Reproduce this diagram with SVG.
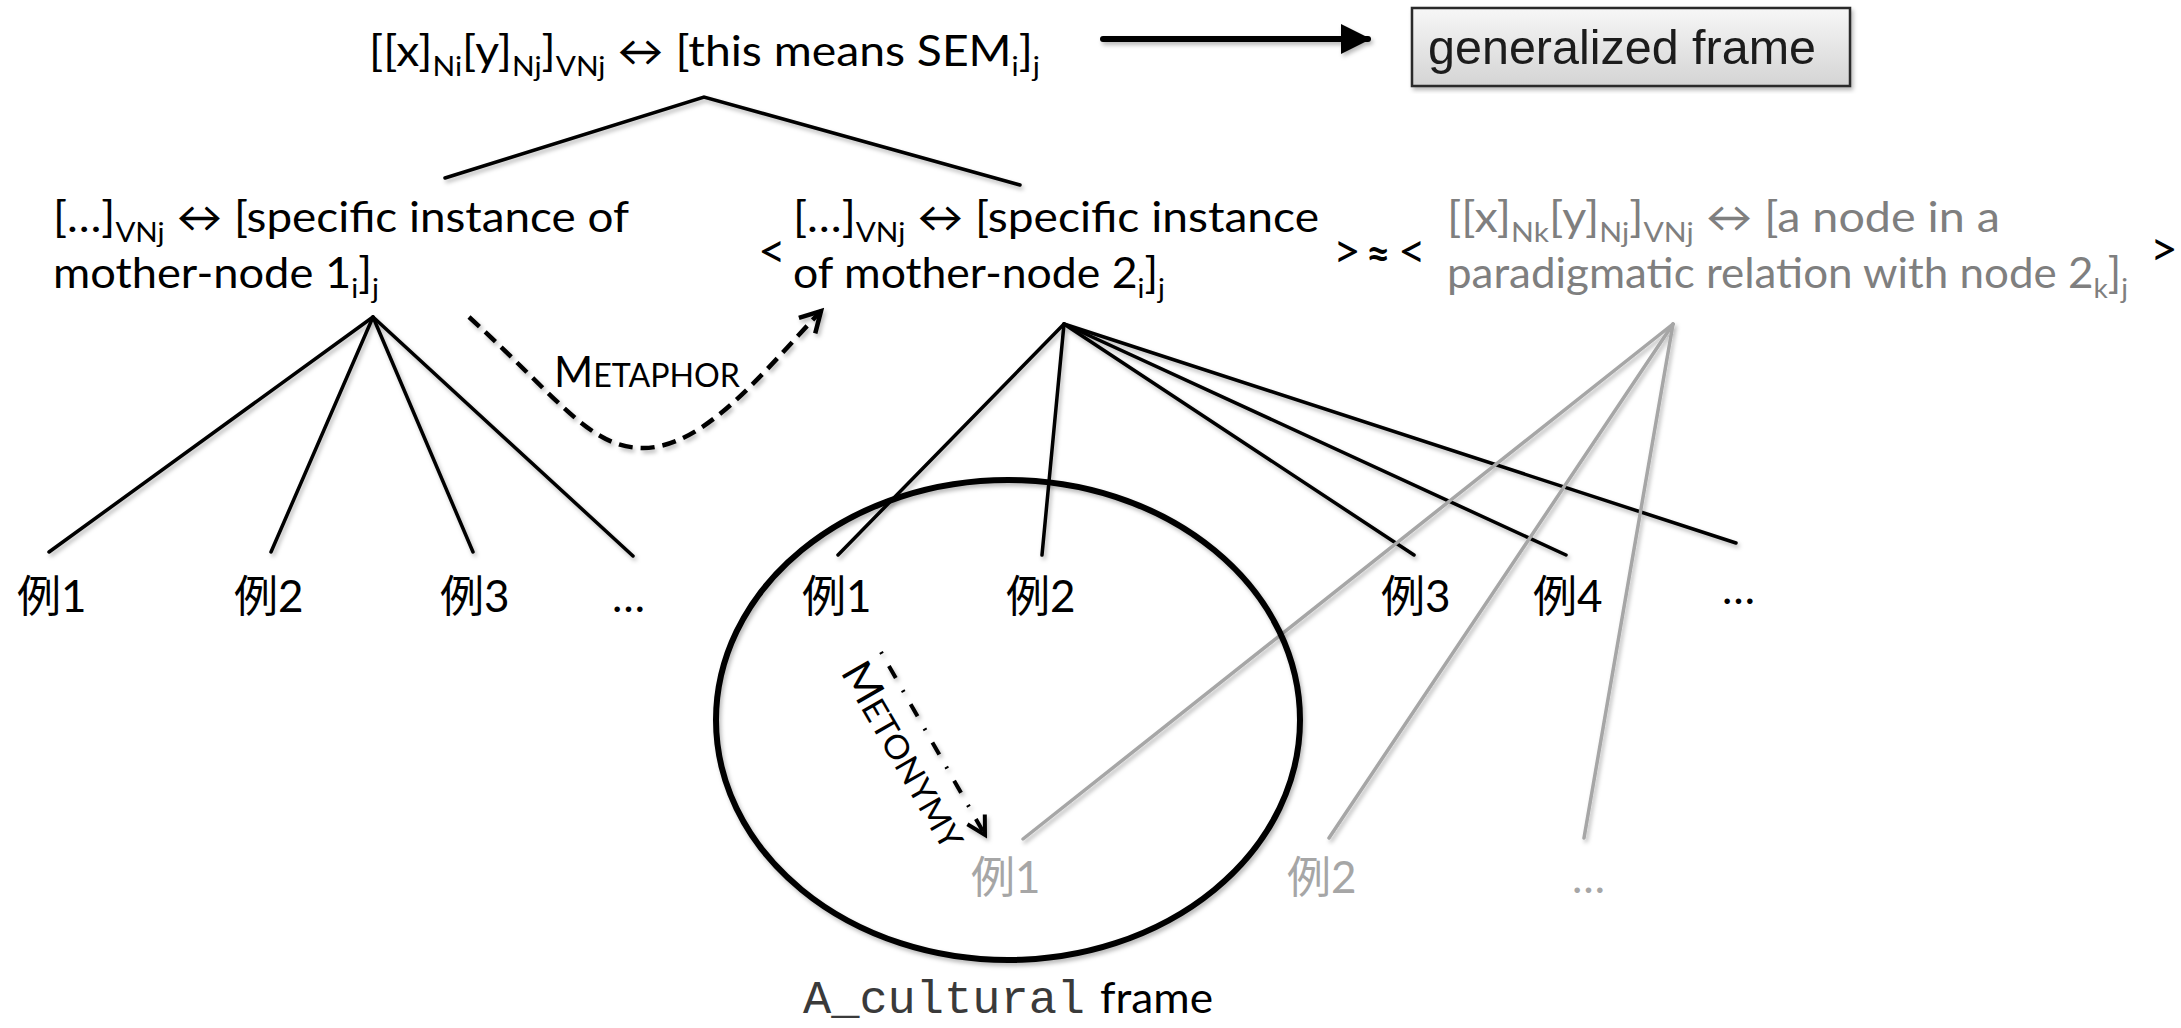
<svg xmlns="http://www.w3.org/2000/svg" width="2181" height="1028" viewBox="0 0 2181 1028">
<style>
.t{font-family:Lato,"Liberation Sans","Noto Sans CJK JP",sans-serif;font-size:42px;fill:#000}
.sub{font-size:27px}
.grey{fill:#7f7f7f}
.lgrey{fill:#a6a6a6}
.ex{font-family:Lato,"Noto Sans CJK JP",sans-serif;font-size:44px}
.cmp{font-size:48px}
.ln{stroke:#000;stroke-width:3.5;fill:none;stroke-linecap:round}
.gl{stroke:#a6a6a6;stroke-width:3.5;fill:none;stroke-linecap:round}
</style>
<defs>
<filter id="sh" x="-10%" y="-10%" width="120%" height="120%"><feDropShadow dx="2" dy="3" stdDeviation="2" flood-color="#000" flood-opacity="0.28"/></filter>
<linearGradient id="bg" x1="0" y1="0" x2="0" y2="1"><stop offset="0" stop-color="#f7f7f7"/><stop offset="1" stop-color="#d4d4d4"/></linearGradient>
<marker id="solid" viewBox="0 0 10 10" refX="9" refY="5" markerWidth="5" markerHeight="5" orient="auto" markerUnits="strokeWidth"><path d="M0,0 L10,5 L0,10 z" fill="#000"/></marker>
<marker id="open" viewBox="0 0 12 12" refX="10" refY="6" markerWidth="6" markerHeight="6" orient="auto" markerUnits="strokeWidth"><path d="M1,1 L10,6 L1,11" fill="none" stroke="#000" stroke-width="2"/></marker>
</defs>
<rect width="2181" height="1028" fill="#fff"/>

<g id="connectors" filter="url(#sh)">
<line class="ln" x1="1103" y1="39" x2="1368" y2="39" style="stroke-width:6" marker-end="url(#solid)"/>
<polyline class="ln" points="445,178 704,97 1020,185"/>
<line class="ln" x1="373" y1="317" x2="49" y2="552"/>
<line class="ln" x1="373" y1="317" x2="271" y2="552"/>
<line class="ln" x1="373" y1="317" x2="473" y2="552"/>
<line class="ln" x1="373" y1="317" x2="633" y2="556"/>
<line class="ln" x1="1064" y1="324" x2="838" y2="555"/>
<line class="ln" x1="1064" y1="324" x2="1042" y2="555"/>
<line class="ln" x1="1064" y1="324" x2="1414" y2="555"/>
<line class="ln" x1="1064" y1="324" x2="1566" y2="555"/>
<line class="ln" x1="1064" y1="324" x2="1736" y2="543"/>
<line class="gl" x1="1673" y1="324" x2="1023" y2="839"/>
<line class="gl" x1="1673" y1="324" x2="1329" y2="838"/>
<line class="gl" x1="1673" y1="324" x2="1584" y2="838"/>
<path class="ln" d="M469,317 C560,400 590,448 643,448 C705,448 765,370 821,311" style="stroke-width:4.5;stroke-dasharray:14 8;stroke-linecap:butt" marker-end="url(#open)"/>
<path class="ln" d="M881,652 L985,835" style="stroke-width:4;stroke-dasharray:2 14 14 14;stroke-linecap:butt" marker-end="url(#open)"/>
</g>

<g id="frame-ellipse" filter="url(#sh)">
<ellipse cx="1008" cy="720" rx="292" ry="240" fill="none" stroke="#000" stroke-width="6"/>
</g>

<g id="generalized-frame" filter="url(#sh)">
<rect x="1412" y="8" width="438" height="78" fill="url(#bg)" stroke="#2b2b2b" stroke-width="2.5"/>
<text x="1428" y="64" style="font-family:'Liberation Sans',Arial,sans-serif;font-size:49px;fill:#1a1a1a" textLength="388" lengthAdjust="spacingAndGlyphs">generalized frame</text>
</g>

<g id="top-node">
<text class="t" x="369" y="66" textLength="671" lengthAdjust="spacingAndGlyphs">[[x]<tspan class="sub" dy="10">Ni</tspan><tspan dy="-10">[y]</tspan><tspan class="sub" dy="10">Nj</tspan><tspan dy="-10">]</tspan><tspan class="sub" dy="10">VNj</tspan><tspan dy="-10"> ↔ [this means SEM</tspan><tspan class="sub" dy="10">i</tspan><tspan dy="-10">]</tspan><tspan class="sub" dy="10">j</tspan></text>
</g>

<g id="node-1">
<text class="t" x="53" y="232" textLength="576" lengthAdjust="spacingAndGlyphs">[…]<tspan class="sub" dy="10">VNj</tspan><tspan dy="-10"> ↔ [specific instance of</tspan></text>
<text class="t" x="53" y="288" textLength="326" lengthAdjust="spacingAndGlyphs">mother-node 1<tspan class="sub" dy="10">i</tspan><tspan dy="-10">]</tspan><tspan class="sub" dy="10">j</tspan></text>
</g>

<g id="node-2">
<text class="t cmp" x="758" y="268">&lt;</text>
<text class="t" x="793" y="232" textLength="526" lengthAdjust="spacingAndGlyphs">[…]<tspan class="sub" dy="10">VNj</tspan><tspan dy="-10"> ↔ [specific instance</tspan></text>
<text class="t" x="793" y="288" textLength="372" lengthAdjust="spacingAndGlyphs">of mother-node 2<tspan class="sub" dy="10">i</tspan><tspan dy="-10">]</tspan><tspan class="sub" dy="10">j</tspan></text>
<text class="t cmp" x="1333" y="268">&gt;</text>
<text class="t" x="1366" y="268" font-weight="bold" font-size="54">≈</text>
<text class="t cmp" x="1398" y="268">&lt;</text>
</g>

<g id="node-3">
<text class="t grey" x="1447" y="232" textLength="553" lengthAdjust="spacingAndGlyphs">[[x]<tspan class="sub" dy="10">Nk</tspan><tspan dy="-10">[y]</tspan><tspan class="sub" dy="10">Nj</tspan><tspan dy="-10">]</tspan><tspan class="sub" dy="10">VNj</tspan><tspan dy="-10"> ↔ [a node in a</tspan></text>
<text class="t grey" x="1447" y="288" textLength="681" lengthAdjust="spacingAndGlyphs">paradigmatic relation with node 2<tspan class="sub" dy="10">k</tspan><tspan dy="-10">]</tspan><tspan class="sub" dy="10">j</tspan></text>
<text class="t cmp" x="2150" y="266">&gt;</text>
</g>

<g id="metaphor-label">
<text class="t" x="554" y="387" textLength="186" lengthAdjust="spacingAndGlyphs">M<tspan font-size="32">ETAPHOR</tspan></text>
</g>
<g id="metonymy-label">
<text class="t" transform="translate(840,672) rotate(60)" textLength="208" lengthAdjust="spacingAndGlyphs">M<tspan font-size="33">ETONYMY</tspan></text>
</g>

<g id="examples-1">
<text class="t ex" x="17" y="612">例1</text>
<text class="t ex" x="234" y="612">例2</text>
<text class="t ex" x="440" y="612">例3</text>
<text class="t ex" x="612" y="612">…</text>
</g>
<g id="examples-2">
<text class="t ex" x="802" y="612">例1</text>
<text class="t ex" x="1006" y="612">例2</text>
<text class="t ex" x="1381" y="612">例3</text>
<text class="t ex" x="1533" y="612">例4</text>
<text class="t ex" x="1722" y="604">…</text>
</g>
<g id="examples-3">
<text class="t ex lgrey" x="971" y="893">例1</text>
<text class="t ex lgrey" x="1287" y="893">例2</text>
<text class="t ex lgrey" x="1572" y="893">…</text>
</g>

<g id="frame-label">
<text x="803" y="1013" style="font-family:'Liberation Mono','Courier New',monospace;font-size:47px;fill:#3a3a3a">A_cultural</text>
<text class="t" x="1100" y="1013" textLength="113" lengthAdjust="spacingAndGlyphs">frame</text>
</g>
</svg>
